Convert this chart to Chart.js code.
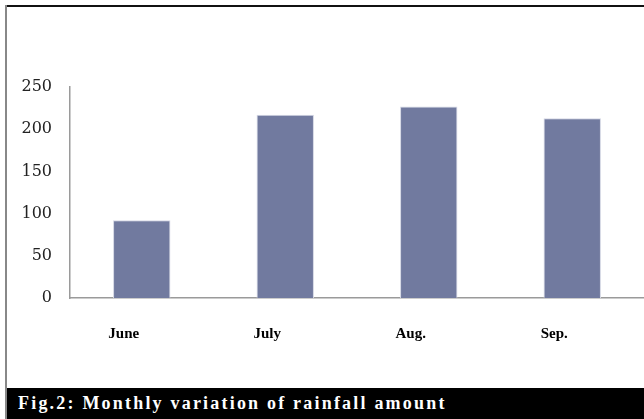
<!DOCTYPE html>
<html>
<head>
<meta charset="utf-8">
<script src="https://cdn.jsdelivr.net/npm/chart.js@4.4.1/dist/chart.umd.min.js"></script>
<style>
  html, body { margin: 0; padding: 0; background: #fff; }
  #frame {
    position: relative;
    width: 644px;
    height: 419px;
    overflow: hidden;
    background: #fff;
  }
  #frame .top { position: absolute; left: 5px; top: 5px; width: 639px; height: 2px; background: #111; }
  #frame .left { position: absolute; left: 5px; top: 5px; width: 2px; height: 414px; background: #888; }
  #wrap { position: absolute; left: 0; top: 0; width: 644px; height: 388px; }
  #caption {
    position: absolute;
    left: 7px;
    top: 388px;
    width: 637px;
    height: 31px;
    background: #000;
    color: #fff;
    font: bold 18px "Liberation Serif", "Times New Roman", serif;
    letter-spacing: 2.2px;
    line-height: 31px;
    padding-left: 11px;
    box-sizing: border-box;
    white-space: nowrap;
  }
</style>
</head>
<body>
<div id="frame">
  <div id="wrap"><canvas id="chart"></canvas></div>
  <div class="top"></div>
  <div class="left"></div>
  <div id="caption">Fig.2: Monthly variation of rainfall amount</div>
</div>
<script>
(() => {
  'use strict';

  // monthly rainfall
  const MONTHS = ['June', 'July', 'Aug.', 'Sep.'];
  const RAINFALL = [92, 217, 227, 213];
  const Y_TICKS = [0, 50, 100, 150, 200, 250];

  const AXIS_GREY = '#9a9a9a';

  new Chart(document.getElementById('chart'), {
    type: 'bar',
    data: {
      labels: MONTHS,
      datasets: [{
        data: RAINFALL,
        backgroundColor: '#717a9f',
        borderColor: '#d4d7e4',
        borderWidth: 1,
        categoryPercentage: 0.4,
        barPercentage: 1.0,
      }],
    },
    options: {
      responsive: true,
      maintainAspectRatio: false,
      animation: false,
      layout: { padding: { top: 87, left: 0, right: 0, bottom: 0 } },

      scales: {
        x: {
          grid: { display: false, drawTicks: false },
          border: { color: AXIS_GREY, width: 1.5 },
          ticks: {
            color: '#000',
            font: { family: '"Liberation Serif", "Times New Roman", serif', size: 15, weight: 'bold' },
            padding: 27,
            labelOffset: -18,
            maxRotation: 0,
          },
          afterFit: (scale) => { scale.height = 90; },
        },

        y: {
          min: 0,
          max: 250,
          afterBuildTicks: (scale) => { scale.ticks = Y_TICKS.map((v) => ({ value: v })); },
          grid: { display: false, drawTicks: false },
          border: { color: AXIS_GREY, width: 1.5 },
          ticks: {
            color: '#222',
            font: { family: '"DejaVu Serif", serif', size: 16 },
            padding: 18,
          },
          afterFit: (scale) => { scale.width = 70; },
        },
      },

      plugins: {
        legend: { display: false },
        tooltip: { enabled: false },
      },
    },
  });
})();
</script>
</body>
</html>
